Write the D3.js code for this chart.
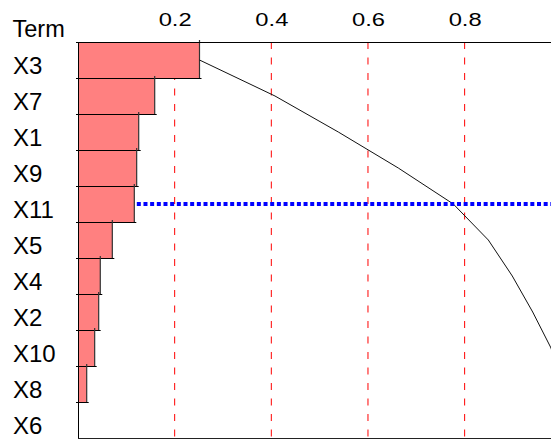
<!DOCTYPE html>
<html>
<head>
<meta charset="utf-8">
<script src="https://cdn.jsdelivr.net/npm/d3@7"></script>
<style>
  html, body { margin: 0; padding: 0; background: #fff; }
  svg { display: block; }
  text { font-family: "Liberation Sans", Arial, Helvetica, sans-serif; fill: #000; }
</style>
</head>
<body>
<svg id="chart" width="551" height="439"></svg>
<script>
// ---- data ----
const terms = ["X3", "X7", "X1", "X9", "X11", "X5", "X4", "X2", "X10", "X8", "X6"];
const contributions = [0.2514, 0.1587, 0.1256, 0.1214, 0.1165, 0.0710, 0.0461, 0.0428, 0.0345, 0.0180, 0.0];
const cumulative = [0.2514, 0.4076, 0.5386, 0.6627, 0.7765, 0.8490, 0.8986, 0.9408, 0.9787, 1.0, 1.0];
const tickValues = [0.2, 0.4, 0.6, 0.8];
const cutoffTerm = "X11";
const axisTitle = "Term";

// ---- layout ----
const W = 551, H = 439;
const mLeft = 78, mTop = 42, mBottom = 438;
const pxPerUnit = 483.3;

const svg = d3.select("#chart");
svg.append("rect").attr("width", W).attr("height", H).attr("fill", "#fff");

const x = d3.scaleLinear().domain([0, (W - mLeft) / pxPerUnit]).range([mLeft, W]);
const y = d3.scaleBand().domain(terms).range([mTop, mBottom]).padding(0);
const bw = y.bandwidth();

// dashed reference gridlines
svg.append("g").selectAll("line").data(tickValues).join("line")
  .attr("x1", d => x(d)).attr("x2", d => x(d))
  .attr("y1", mTop).attr("y2", mBottom)
  .attr("stroke", "#ff0000").attr("stroke-width", 1)
  .attr("stroke-dasharray", "7,8.5");

// bars
const rows = terms.map((t, i) => ({ t, v: contributions[i], c: cumulative[i] }));
const gb = svg.append("g");
gb.selectAll("rect").data(rows).join("rect")
  .attr("x", x(0)).attr("y", d => y(d.t))
  .attr("width", d => x(d.v) - x(0)).attr("height", bw)
  .attr("fill", "#ff8080");
// bar bottom edges (with small left tick)
gb.selectAll("line.bot").data(rows.filter(d => d.v > 0)).join("line").attr("class", "bot")
  .attr("x1", x(0) - 2).attr("x2", d => x(d.v) + 2)
  .attr("y1", d => y(d.t) + bw + 0.5).attr("y2", d => y(d.t) + bw + 0.5)
  .attr("stroke", "#000").attr("stroke-width", 1);
// bar right edges
gb.selectAll("line.right").data(rows.filter(d => d.v > 0)).join("line").attr("class", "right")
  .attr("x1", d => x(d.v)).attr("x2", d => x(d.v))
  .attr("y1", d => y(d.t) - 2).attr("y2", d => y(d.t) + bw)
  .attr("stroke", "#333").attr("stroke-width", 1.2);

// frame: top, left, bottom
svg.append("line").attr("x1", x(0) - 2).attr("x2", W).attr("y1", mTop + 0.5).attr("y2", mTop + 0.5)
  .attr("stroke", "#000");
svg.append("line").attr("x1", x(0) + 0.5).attr("x2", x(0) + 0.5).attr("y1", mTop).attr("y2", mBottom + 1)
  .attr("stroke", "#000");
svg.append("line").attr("x1", x(0)).attr("x2", W).attr("y1", mBottom + 0.5).attr("y2", mBottom + 0.5)
  .attr("stroke", "#222");

// cumulative line
const line = d3.line().x(d => x(d.c)).y(d => y(d.t) + bw / 2);
svg.append("path").datum(rows).attr("d", line)
  .attr("fill", "none").attr("stroke", "#111").attr("stroke-width", 1);

// cutoff dotted line
const cut = rows.find(d => d.t === cutoffTerm);
svg.append("line")
  .attr("x1", x(cut.v) + 2.5).attr("x2", W)
  .attr("y1", y(cut.t) + bw / 2).attr("y2", y(cut.t) + bw / 2)
  .attr("stroke", "#0000ff").attr("stroke-width", 4)
  .attr("stroke-dasharray", "4,2.67");

// top axis labels
const ax = d3.axisTop(x).tickValues(tickValues).tickSize(0).tickPadding(0).tickFormat(d3.format(".1f"));
const gAx = svg.append("g").attr("transform", `translate(0,${mTop})`).call(ax);
gAx.select(".domain").remove();
gAx.selectAll("text")
  .attr("y", -16.3).attr("dy", 0)
  .attr("font-size", 19)
  .attr("font-family", "Liberation Sans, Arial, sans-serif")
  .attr("fill", "#000")
  .attr("transform", "scale(1.25,1)");

// row labels
svg.append("g").selectAll("text").data(terms).join("text")
  .attr("x", 13).attr("y", d => y(d) + bw / 2 + 14)
  .attr("font-size", 24)
  .text(d => d);

svg.append("text").attr("x", 12.5).attr("y", 36.7).attr("font-size", 23.5).text(axisTitle);
</script>
</body>
</html>
